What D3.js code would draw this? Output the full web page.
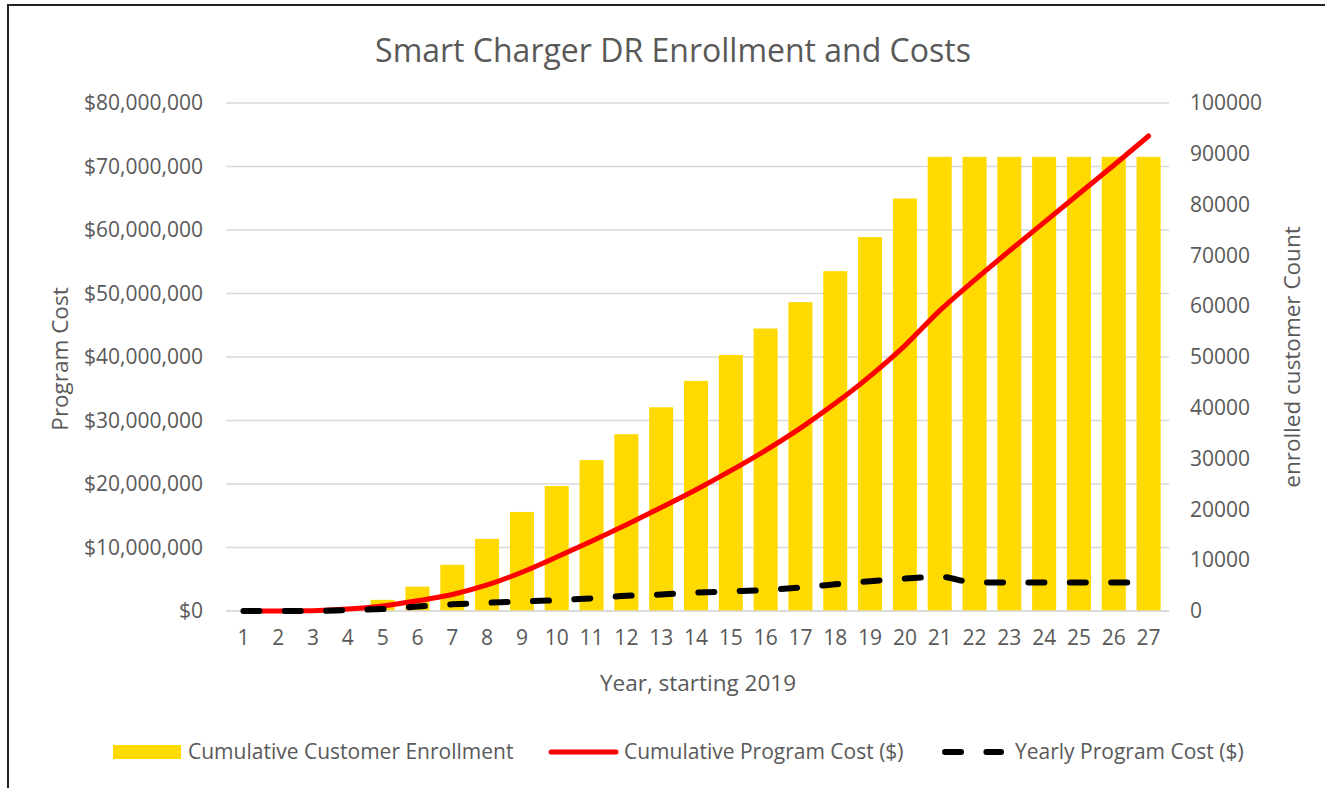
<!DOCTYPE html>
<html>
<head>
<meta charset="utf-8">
<script src="https://cdn.jsdelivr.net/npm/d3@7"></script>
<style>
  body { margin: 0; background: #fff; }
  svg text { font-family: "Open Sans", "Liberation Sans", sans-serif; fill: #595959; }
</style>
</head>
<body>
<svg id="chart" width="1325" height="788"></svg>
<script>
// chart data
var years = d3.range(1, 28);
var enrollment = [0, 0, 0, 0, 2200, 4800, 9100, 14200, 19500, 24600, 29700, 34800, 40100,
    45300, 50400, 55600, 60800, 66900, 73600, 81200, 89400, 89400, 89400, 89400, 89400, 89400, 89400];
var cumulativeCost = [0, 0, 0.05, 0.3, 0.8, 1.6, 2.6, 4.1, 6.1, 8.5, 11.0, 13.6, 16.3,
    19.1, 22.1, 25.3, 28.8, 32.7, 37.0, 41.8, 47.3, 52.1, 56.7, 61.2, 65.7, 70.2, 74.8].map(function(v) { return v * 1e6; });
var yearlyCost = [0, 0, 0, 0.15, 0.3, 0.7, 1.05, 1.3, 1.5, 1.7, 2.0, 2.4, 2.6,
    2.9, 3.1, 3.3, 3.7, 4.2, 4.7, 5.1, 5.4, 4.5, 4.5, 4.5, 4.5, 4.5, 4.5].map(function(v) { return v * 1e6; });
var costTicks = d3.range(0, 80000001, 10000000);
var countTicks = d3.range(0, 100001, 10000);
var legendLabels = ["Cumulative Customer Enrollment", "Cumulative Program Cost ($)", "Yearly Program Cost ($)"];

(function() {

    var svg = d3.select("#chart");
    var plotLeft = 226, plotRight = 1166, plotTop = 103, plotBottom = 611;
    var gold = "#FFDA00", grid = "#d9d9d9";
    var tickFont = "21px", titleFont = "22.5px";

    // frame around the chart
    svg.append("rect")
        .attr("x", 8).attr("y", 5)
        .attr("width", 1330).attr("height", 800)
        .style("fill", "none")
        .style("stroke", "#222")
        .style("stroke-width", 2);

    var x = d3.scaleBand()
        .domain(years)
        .range([plotLeft, plotRight])
        .paddingInner(0.31)
        .paddingOuter(0.155);

    var yCost = d3.scaleLinear().domain([0, 80000000]).range([plotBottom, plotTop]);
    var yCount = d3.scaleLinear().domain([0, 100000]).range([plotBottom, plotTop]);

    // gridlines
    svg.append("g")
        .selectAll("line")
        .data(costTicks)
        .enter()
        .append("line")
        .attr("x1", plotLeft).attr("x2", plotRight + 3)
        .attr("y1", function(d) { return yCost(d); })
        .attr("y2", function(d) { return yCost(d); })
        .style("stroke", grid)
        .style("stroke-width", 1.5);

    // left axis
    var leftAxis = d3.axisLeft(yCost)
        .tickValues(costTicks)
        .tickSize(0)
        .tickPadding(23)
        .tickFormat(function(d) { return "$" + d3.format(",")(d); });

    svg.append("g")
        .attr("transform", "translate(" + plotLeft + ",0)")
        .call(leftAxis)
        .call(function(g) { g.select(".domain").remove(); })
        .selectAll("text")
        .style("font-size", tickFont);

    // right axis
    var rightAxis = d3.axisRight(yCount)
        .tickValues(countTicks)
        .tickSize(0)
        .tickPadding(24)
        .tickFormat(d3.format("d"));

    svg.append("g")
        .attr("transform", "translate(" + plotRight + ",0)")
        .call(rightAxis)
        .call(function(g) { g.select(".domain").remove(); })
        .selectAll("text")
        .style("font-size", tickFont);

    // bars
    svg.append("g")
        .selectAll("rect")
        .data(years)
        .enter()
        .append("rect")
        .attr("x", function(d) { return x(d); })
        .attr("width", x.bandwidth())
        .attr("y", function(d, i) { return yCount(enrollment[i]); })
        .attr("height", function(d, i) { return plotBottom - yCount(enrollment[i]); })
        .style("fill", gold);

    // bottom axis line
    svg.append("line")
        .attr("x1", plotLeft).attr("x2", plotRight + 3)
        .attr("y1", plotBottom).attr("y2", plotBottom)
        .style("stroke", grid)
        .style("stroke-width", 1.5);

    var xAxis = d3.axisBottom(x)
        .tickSize(0)
        .tickPadding(19);

    svg.append("g")
        .attr("transform", "translate(0," + plotBottom + ")")
        .call(xAxis)
        .call(function(g) { g.select(".domain").remove(); })
        .selectAll("text")
        .style("font-size", tickFont);

    var cx = function(d, i) { return x(years[i]) + x.bandwidth() / 2; };

    var costLine = d3.line()
        .x(cx)
        .y(function(d) { return yCost(d); })
        .curve(d3.curveMonotoneX);

    svg.append("path")
        .datum(cumulativeCost)
        .attr("d", costLine)
        .style("fill", "none")
        .style("stroke", "#ff0000")
        .style("stroke-width", 5)
        .style("stroke-linecap", "round");

    svg.append("path")
        .datum(yearlyCost)
        .attr("d", costLine)
        .style("fill", "none")
        .style("stroke", "#000")
        .style("stroke-width", 6)
        .style("stroke-linecap", "round")
        .style("stroke-dasharray", "16,25.4");

    // titles
    svg.append("text")
        .attr("x", 673).attr("y", 62)
        .attr("text-anchor", "middle")
        .style("font-size", "32px")
        .text("Smart Charger DR Enrollment and Costs");

    svg.append("text")
        .attr("transform", "translate(68,359) rotate(-90)")
        .attr("text-anchor", "middle")
        .style("font-size", titleFont)
        .text("Program Cost");

    svg.append("text")
        .attr("transform", "translate(1300,357) rotate(-90)")
        .attr("text-anchor", "middle")
        .style("font-size", titleFont)
        .text("enrolled customer Count");

    svg.append("text")
        .attr("x", 698).attr("y", 691)
        .attr("text-anchor", "middle")
        .style("font-size", titleFont)
        .text("Year, starting 2019");

    // legend
    var legend = svg.append("g").attr("transform", "translate(0,752)");

    legend.append("rect")
        .attr("x", 113).attr("y", -7)
        .attr("width", 68).attr("height", 14)
        .style("fill", gold);

    legend.append("line")
        .attr("x1", 551).attr("x2", 616)
        .style("stroke", "#ff0000")
        .style("stroke-width", 5)
        .style("stroke-linecap", "round");

    legend.append("line")
        .attr("x1", 945).attr("x2", 1001)
        .style("stroke", "#000")
        .style("stroke-width", 6)
        .style("stroke-linecap", "round")
        .style("stroke-dasharray", "16,25.4");

    var legendX = [188, 624, 1015];
    legend.selectAll("text")
        .data(legendLabels)
        .enter()
        .append("text")
        .attr("x", function(d, i) { return legendX[i]; })
        .attr("y", 7)
        .style("font-size", "21px")
        .text(function(d) { return d; });

})();
</script>
</body>
</html>
